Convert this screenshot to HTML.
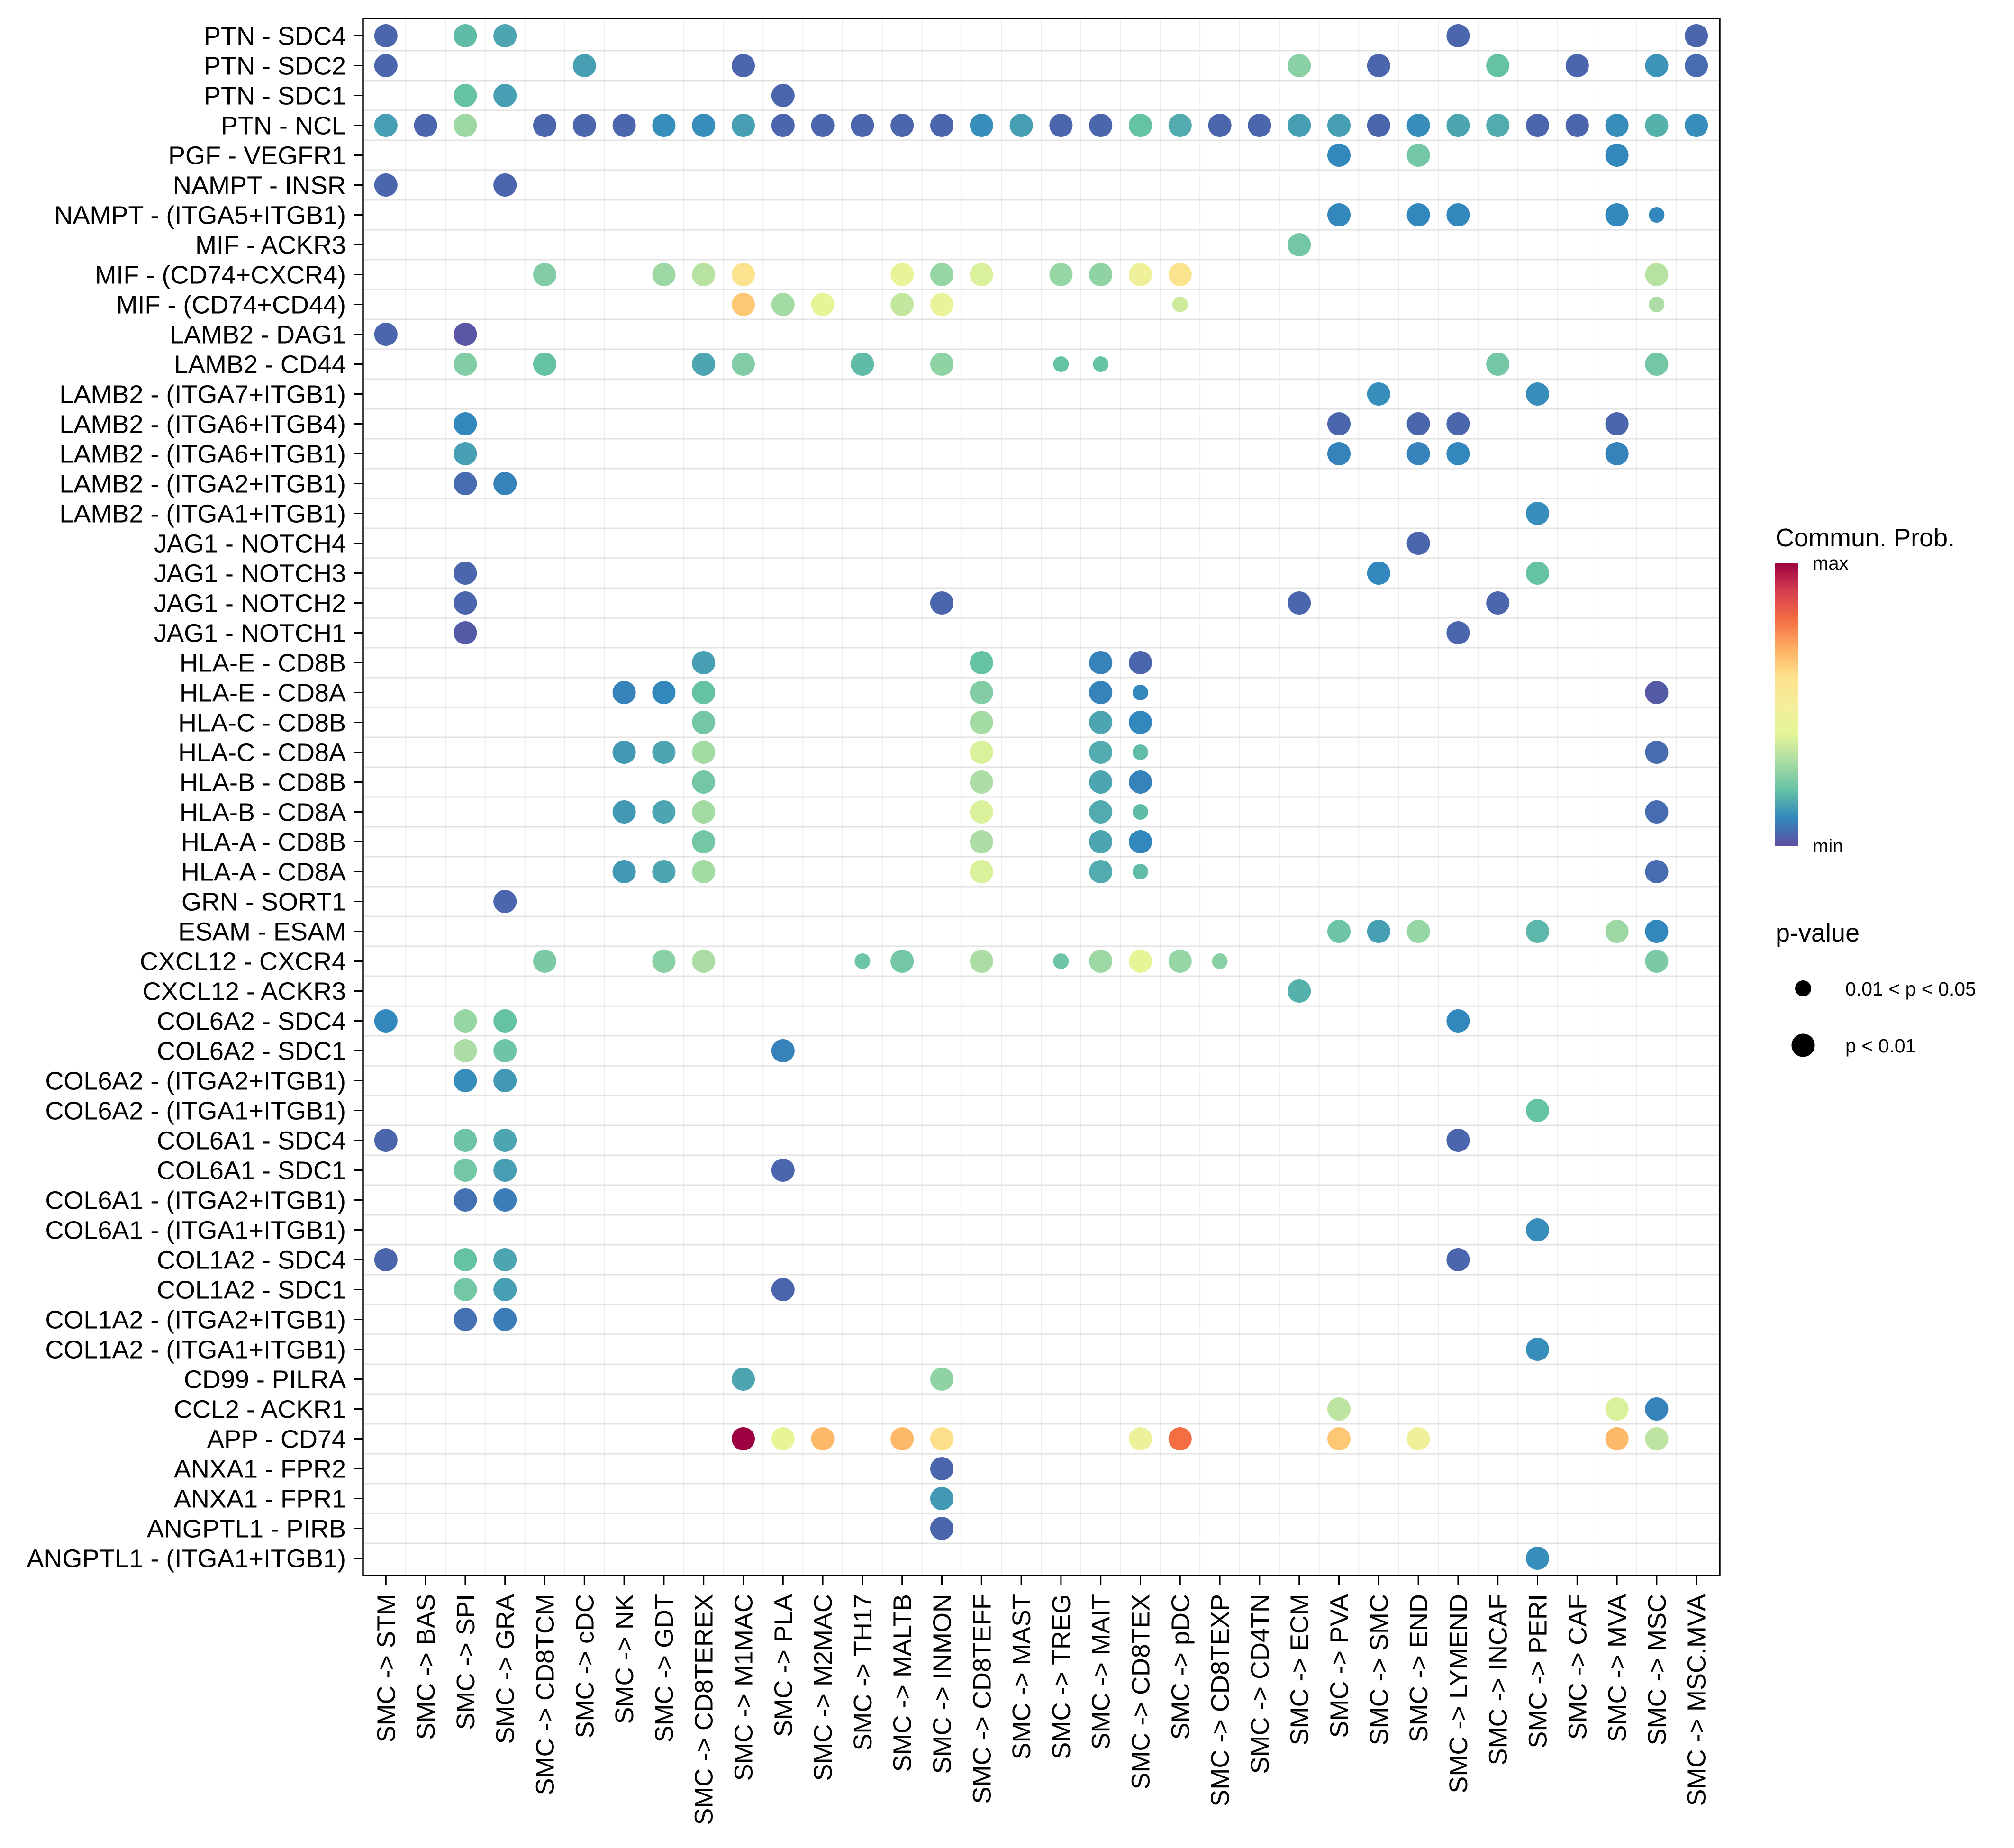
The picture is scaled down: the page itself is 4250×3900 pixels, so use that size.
<!DOCTYPE html>
<html><head><meta charset="utf-8"><style>
html,body{margin:0;padding:0;background:#fff;}
svg{display:block;font-family:"Liberation Sans",Arial,sans-serif;}
</style></head><body>
<svg id="chart" width="4250" height="3900" viewBox="0 0 4250 3900" xmlns="http://www.w3.org/2000/svg">
<defs>
<linearGradient id="cbgrad" x1="0" y1="1" x2="0" y2="0">
<stop offset="0" stop-color="#5E4FA2"/><stop offset="0.1" stop-color="#3288BD"/><stop offset="0.2" stop-color="#66C2A5"/><stop offset="0.3" stop-color="#ABDDA4"/><stop offset="0.4" stop-color="#E6F598"/><stop offset="0.5" stop-color="#F4EE9C"/><stop offset="0.6" stop-color="#FEE08B"/><stop offset="0.7" stop-color="#FDAE61"/><stop offset="0.8" stop-color="#F46D43"/><stop offset="0.9" stop-color="#D53E4F"/><stop offset="1" stop-color="#9E0142"/>
</linearGradient>
</defs>
<g id="grid"></g>
<g id="dots"></g>
<rect x="766" y="39" width="2863" height="3286" fill="none" stroke="#000" stroke-width="3.5"/>
<g id="yaxis"></g>
<g id="xaxis"></g>
<g>
<text x="3747" y="1153" font-size="54">Commun. Prob.</text>
<rect x="3745" y="1188" width="50" height="598" fill="url(#cbgrad)"/>
<text x="3825" y="1202" font-size="40">max</text>
<text x="3825" y="1799" font-size="40">min</text>
</g>
<g>
<text x="3747" y="1987" font-size="54">p-value</text>
<circle cx="3805" cy="2086" r="17" fill="#000"/>
<text x="3894" y="2101" font-size="41">0.01 &lt; p &lt; 0.05</text>
<circle cx="3805" cy="2206" r="24.5" fill="#000"/>
<text x="3894" y="2221" font-size="41">p &lt; 0.01</text>
</g>
</svg>
<script>
const columns = ["SMC -> STM","SMC -> BAS","SMC -> SPI","SMC -> GRA","SMC -> CD8TCM","SMC -> cDC","SMC -> NK","SMC -> GDT","SMC -> CD8TEREX","SMC -> M1MAC","SMC -> PLA","SMC -> M2MAC","SMC -> TH17","SMC -> MALTB","SMC -> INMON","SMC -> CD8TEFF","SMC -> MAST","SMC -> TREG","SMC -> MAIT","SMC -> CD8TEX","SMC -> pDC","SMC -> CD8TEXP","SMC -> CD4TN","SMC -> ECM","SMC -> PVA","SMC -> SMC","SMC -> END","SMC -> LYMEND","SMC -> INCAF","SMC -> PERI","SMC -> CAF","SMC -> MVA","SMC -> MSC","SMC -> MSC.MVA"];
const rows = ["PTN - SDC4","PTN - SDC2","PTN - SDC1","PTN - NCL","PGF - VEGFR1","NAMPT - INSR","NAMPT - (ITGA5+ITGB1)","MIF - ACKR3","MIF - (CD74+CXCR4)","MIF - (CD74+CD44)","LAMB2 - DAG1","LAMB2 - CD44","LAMB2 - (ITGA7+ITGB1)","LAMB2 - (ITGA6+ITGB4)","LAMB2 - (ITGA6+ITGB1)","LAMB2 - (ITGA2+ITGB1)","LAMB2 - (ITGA1+ITGB1)","JAG1 - NOTCH4","JAG1 - NOTCH3","JAG1 - NOTCH2","JAG1 - NOTCH1","HLA-E - CD8B","HLA-E - CD8A","HLA-C - CD8B","HLA-C - CD8A","HLA-B - CD8B","HLA-B - CD8A","HLA-A - CD8B","HLA-A - CD8A","GRN - SORT1","ESAM - ESAM","CXCL12 - CXCR4","CXCL12 - ACKR3","COL6A2 - SDC4","COL6A2 - SDC1","COL6A2 - (ITGA2+ITGB1)","COL6A2 - (ITGA1+ITGB1)","COL6A1 - SDC4","COL6A1 - SDC1","COL6A1 - (ITGA2+ITGB1)","COL6A1 - (ITGA1+ITGB1)","COL1A2 - SDC4","COL1A2 - SDC1","COL1A2 - (ITGA2+ITGB1)","COL1A2 - (ITGA1+ITGB1)","CD99 - PILRA","CCL2 - ACKR1","APP - CD74","ANXA1 - FPR2","ANXA1 - FPR1","ANGPTL1 - PIRB","ANGPTL1 - (ITGA1+ITGB1)"];
// dot data: row index, column index, probability (0=min..1=max), small (1 = 0.01<p<0.05)
const dotRow = [0,0,0,0,0, 1,1,1,1,1,1,1,1,1, 2,2,2,
 3,3,3,3,3,3,3,3,3,3,3,3,3,3,3,3,3,3,3,3,3,3,3,3,3,3,3,3,3,3,3,3,3,
 4,4,4, 5,5, 6,6,6,6,6, 7, 8,8,8,8,8,8,8,8,8,8,8,8, 9,9,9,9,9,9,9, 10,10,
 11,11,11,11,11,11,11,11,11,11, 12,12, 13,13,13,13,13, 14,14,14,14,14, 15,15, 16, 17, 18,18,18, 19,19,19,19, 20,20,
 21,21,21,21, 22,22,22,22,22,22,22, 23,23,23,23, 24,24,24,24,24,24,24, 25,25,25,25, 26,26,26,26,26,26,26, 27,27,27,27, 28,28,28,28,28,28,28,
 29, 30,30,30,30,30,30, 31,31,31,31,31,31,31,31,31,31,31,31, 32, 33,33,33,33, 34,34,34, 35,35, 36, 37,37,37,37, 38,38,38, 39,39, 40,
 41,41,41,41, 42,42,42, 43,43, 44, 45,45, 46,46,46, 47,47,47,47,47,47,47,47,47,47,47, 48, 49, 50, 51];
const dotCol = [0,2,3,27,33, 0,5,9,23,25,28,30,32,33, 2,3,10,
 0,1,2,4,5,6,7,8,9,10,11,12,13,14,15,16,17,18,19,20,21,22,23,24,25,26,27,28,29,30,31,32,33,
 24,26,31, 0,3, 24,26,27,31,32, 23, 4,7,8,9,13,14,15,17,18,19,20,32, 9,10,11,13,14,20,32, 0,2,
 2,4,8,9,12,14,17,18,28,32, 25,29, 2,24,26,27,31, 2,24,26,27,31, 2,3, 29, 26, 2,25,29, 2,14,23,28, 2,27,
 8,15,18,19, 6,7,8,15,18,19,32, 8,15,18,19, 6,7,8,15,18,19,32, 8,15,18,19, 6,7,8,15,18,19,32, 8,15,18,19, 6,7,8,15,18,19,32,
 3, 24,25,26,29,31,32, 4,7,8,12,13,15,17,18,19,20,21,32, 23, 0,2,3,27, 2,3,10, 2,3, 29, 0,2,3,27, 2,3,10, 2,3, 29,
 0,2,3,27, 2,3,10, 2,3, 29, 9,14, 24,31,32, 9,10,11,13,14,19,20,24,26,31,32, 14, 14, 14, 29];
const dotProb = [0.04,0.19,0.15,0.04,0.04, 0.04,0.14,0.04,0.25,0.04,0.2,0.04,0.12,0.05, 0.2,0.14,0.04,
 0.14,0.04,0.28,0.04,0.04,0.04,0.11,0.11,0.14,0.04,0.04,0.04,0.04,0.04,0.11,0.14,0.04,0.04,0.2,0.16,0.04,0.04,0.14,0.14,0.04,0.11,0.15,0.16,0.04,0.04,0.11,0.17,0.11,
 0.1,0.22,0.1, 0.04,0.04, 0.1,0.1,0.1,0.1,0.1, 0.22, 0.24,0.28,0.32,0.58,0.43,0.27,0.38,0.27,0.26,0.46,0.58,0.32, 0.65,0.29,0.4,0.34,0.43,0.36,0.3, 0.04,0.01,
 0.24,0.2,0.15,0.24,0.19,0.26,0.2,0.2,0.22,0.22, 0.11,0.11, 0.1,0.04,0.04,0.04,0.04, 0.14,0.09,0.09,0.1,0.09, 0.05,0.09, 0.11, 0.04, 0.04,0.1,0.2, 0.04,0.04,0.04,0.04, 0.02,0.04,
 0.14,0.2,0.09,0.04, 0.09,0.1,0.2,0.24,0.09,0.1,0.02, 0.22,0.29,0.15,0.1, 0.13,0.15,0.29,0.38,0.16,0.19,0.05, 0.22,0.3,0.15,0.09, 0.13,0.15,0.29,0.38,0.16,0.19,0.05, 0.22,0.3,0.15,0.1, 0.13,0.15,0.29,0.38,0.16,0.19,0.05,
 0.04, 0.21,0.14,0.27,0.18,0.28,0.1, 0.23,0.25,0.3,0.21,0.22,0.3,0.21,0.28,0.41,0.27,0.25,0.23, 0.17, 0.1,0.27,0.2,0.1, 0.3,0.21,0.09, 0.11,0.13, 0.2, 0.04,0.21,0.15,0.04, 0.22,0.14,0.04, 0.06,0.08, 0.11,
 0.04,0.2,0.15,0.04, 0.22,0.14,0.04, 0.06,0.08, 0.11, 0.15,0.26, 0.33,0.38,0.09, 1.0,0.42,0.68,0.68,0.6,0.45,0.8,0.65,0.47,0.68,0.33, 0.04, 0.13, 0.04, 0.11];
const dotSmall = [0,0,0,0,0, 0,0,0,0,0,0,0,0,0, 0,0,0,
 0,0,0,0,0,0,0,0,0,0,0,0,0,0,0,0,0,0,0,0,0,0,0,0,0,0,0,0,0,0,0,0,0,
 0,0,0, 0,0, 0,0,0,0,1, 0, 0,0,0,0,0,0,0,0,0,0,0,0, 0,0,0,0,0,1,1, 0,0,
 0,0,0,0,0,0,1,1,0,0, 0,0, 0,0,0,0,0, 0,0,0,0,0, 0,0, 0, 0, 0,0,0, 0,0,0,0, 0,0,
 0,0,0,0, 0,0,0,0,0,1,0, 0,0,0,0, 0,0,0,0,0,1,0, 0,0,0,0, 0,0,0,0,0,1,0, 0,0,0,0, 0,0,0,0,0,1,0,
 0, 0,0,0,0,0,0, 0,0,0,1,0,0,1,0,0,0,1,0, 0, 0,0,0,0, 0,0,0, 0,0, 0, 0,0,0,0, 0,0,0, 0,0, 0,
 0,0,0,0, 0,0,0, 0,0, 0, 0,0, 0,0,0, 0,0,0,0,0,0,0,0,0,0,0, 0, 0, 0, 0];

const PAL = ["#5E4FA2","#3288BD","#66C2A5","#ABDDA4","#E6F598","#F4EE9C","#FEE08B","#FDAE61","#F46D43","#D53E4F","#9E0142"];
function hex2rgb(h){return [parseInt(h.slice(1,3),16),parseInt(h.slice(3,5),16),parseInt(h.slice(5,7),16)];}
function colorFor(v){
  v=Math.max(0,Math.min(1,v))*10; const i=Math.min(9,Math.floor(v)); const t=v-i;
  const a=hex2rgb(PAL[i]), b=hex2rgb(PAL[i+1]);
  return "rgb("+a.map((c,k)=>Math.round(c+(b[k]-c)*t)).join(",")+")";
}
const X0=814.3, DX=83.8, Y0=75.5, DY=63.0;
function xScale(i){return X0+DX*i;}
function yScale(r){return Y0+DY*r;}
const NS="http://www.w3.org/2000/svg";
function mk(tag,attrs,parent){const e=document.createElementNS(NS,tag);for(const k in attrs)e.setAttribute(k,attrs[k]);parent.appendChild(e);return e;}

const grid=document.getElementById('grid');
for(let i=0;i<columns.length-1;i++){
  const gx=(xScale(i)+xScale(i+1))/2;
  const l=mk('line',{x1:gx,x2:gx,y1:39,y2:3325,stroke:'#EDEDED','stroke-width':2},grid);
  
  
}
for(let r=0;r<rows.length-1;r++){
  const gy=(yScale(r)+yScale(r+1))/2;
  const l=mk('line',{x1:766,x2:3629,y1:gy,y2:gy,stroke:'#E3E3E3','stroke-width':3},grid);
  
  
}
const yaxis=document.getElementById('yaxis');
rows.forEach((name,r)=>{
  const y=yScale(r);
  const t=mk('line',{x1:746,x2:766,y1:y,y2:y,stroke:'#000','stroke-width':3},yaxis);
  
  
  const tx=mk('text',{x:730,y:y+19,'text-anchor':'end','font-size':54},yaxis);
  tx.textContent=name;
  
  
});
const xaxis=document.getElementById('xaxis');
columns.forEach((name,i)=>{
  const x=xScale(i);
  const t=mk('line',{x1:x,x2:x,y1:3325,y2:3346,stroke:'#000','stroke-width':3},xaxis);
  
  
  const tx=mk('text',{x:0,y:0,'text-anchor':'end','font-size':54,transform:'translate('+(x+19)+',3364) rotate(-90)'},xaxis);
  tx.textContent=name;
  
  
});
const dots=document.getElementById('dots');
for(let k=0;k<dotRow.length;k++){
  const c=mk('circle',{cx:xScale(dotCol[k]),cy:yScale(dotRow[k]),r:dotSmall[k]?16.5:24.5,fill:colorFor(dotProb[k])},dots);
  
  
}
</script>
</body></html>
